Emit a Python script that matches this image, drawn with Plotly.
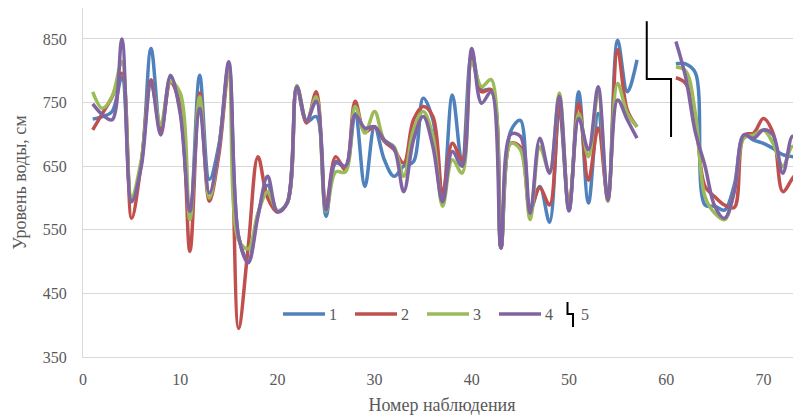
import plotly.graph_objects as go

# ---------------- data ----------------
x_seg1 = list(range(1, 58))
x_seg2 = list(range(61, 75))

s1_a = [724, 728, 736, 790, 597, 655, 835, 705, 790, 738, 571, 793, 629, 685, 809, 540, 500, 575, 620, 580,
        592, 775, 720, 728, 571, 655, 650, 733, 618, 712, 660, 634, 650, 657, 757, 723, 597, 762, 655, 828,
        770, 770, 523, 705, 722, 580, 618, 562, 740, 580, 767, 592, 733, 598, 848, 767, 817]
s1_b = [811, 811, 797, 589, 587, 581, 620, 699, 691, 686, 678, 668, 665, 665]

s2_a = [707, 733, 759, 796, 568, 655, 786, 705, 782, 745, 516, 765, 595, 670, 801, 395, 524, 665, 600, 578,
        592, 775, 718, 767, 589, 665, 644, 752, 704, 712, 689, 676, 655, 723, 744, 728, 608, 686, 660, 820,
        767, 770, 522, 686, 680, 585, 616, 589, 750, 585, 749, 628, 710, 600, 833, 738, 712]
s2_b = [789, 780, 723, 618, 602, 589, 585, 699, 702, 725, 702, 610, 631, 650]

s3_a = [767, 741, 760, 814, 602, 660, 780, 715, 783, 765, 566, 759, 600, 680, 806, 534, 520, 576, 610, 580,
        592, 777, 722, 759, 579, 641, 641, 744, 702, 736, 691, 681, 634, 707, 736, 697, 587, 660, 639, 814,
        775, 786, 525, 686, 676, 566, 680, 641, 765, 583, 733, 665, 765, 595, 780, 733, 712]
s3_b = [806, 800, 733, 602, 576, 566, 610, 694, 699, 707, 686, 650, 681, 639]

s4_a = [748, 731, 723, 850, 594, 650, 782, 699, 793, 733, 579, 741, 608, 680, 814, 540, 498, 571, 634, 578,
        592, 775, 722, 752, 581, 657, 650, 731, 710, 712, 691, 678, 610, 691, 728, 681, 594, 673, 650, 835,
        749, 767, 521, 700, 697, 576, 694, 639, 760, 580, 725, 676, 775, 597, 754, 723, 694]
s4_b = [846, 790, 703, 650, 587, 568, 610, 699, 694, 707, 699, 639, 697, 665]

s5_x = [58, 58, 60.5, 60.5]
s5_y = [878, 787, 787, 696]

series_names = ["1", "2", "3", "4", "5"]
x_ticks = [0, 10, 20, 30, 40, 50, 60, 70]
y_ticks = [350, 450, 550, 650, 750, 850]

# ---------------- style ----------------
W, H = 801, 419
OFF = 8  # page offset of the figure (default body margin)
# plot area wanted on the page: x 83..801, y 8..357
ML, MR, MT, MB = 83 - OFF, 8, 0, H + OFF - 357
colors = ["#4F81BD", "#C0504D", "#9BBB59", "#8064A2"]
FONT = "Liberation Serif, Times New Roman, serif"
GREY = "#595959"

fig = go.Figure()
for name, a, b, c in zip(series_names[:4], [s1_a, s2_a, s3_a, s4_a], [s1_b, s2_b, s3_b, s4_b], colors):
    fig.add_trace(go.Scatter(
        x=x_seg1 + [None] + x_seg2, y=a + [None] + b, name=name, mode="lines",
        line=dict(color=c, width=3.5, shape="spline", smoothing=1.0),
        connectgaps=False, showlegend=False))

fig.add_trace(go.Scatter(x=s5_x, y=s5_y, name=series_names[4], mode="lines",
                         line=dict(color="#000000", width=2), showlegend=False))

# manual legend (reproduces Excel-like legend with step icon); positions in page pixels
def px2x(px):
    return (px - OFF - ML) / (W - ML - MR)

def py2y(py):
    return (H - MB - (py - OFF)) / (H - MT - MB)

shapes = []
annotations = []
leg_y = 314
starts = [283, 355, 427, 499]
for name, c, s in zip(series_names[:4], colors, starts):
    shapes.append(dict(type="line", xref="paper", yref="paper",
                       x0=px2x(s), x1=px2x(s + 42), y0=py2y(leg_y), y1=py2y(leg_y),
                       line=dict(color=c, width=3.5)))
    annotations.append(dict(xref="paper", yref="paper", x=px2x(s + 44), y=py2y(leg_y),
                            text=name, showarrow=False, xanchor="left", yanchor="middle",
                            font=dict(family=FONT, size=16, color=GREY)))
# step icon for series 5
p = "M {x0},{y0} L {x0},{y1} L {x1},{y1} L {x1},{y2}".format(
    x0=px2x(567.5), x1=px2x(573), y0=py2y(302), y1=py2y(314), y2=py2y(327))
shapes.append(dict(type="path", xref="paper", yref="paper", path=p,
                   line=dict(color="#000000", width=2)))
annotations.append(dict(xref="paper", yref="paper", x=px2x(579), y=py2y(leg_y),
                        text=series_names[4], showarrow=False, xanchor="left", yanchor="middle",
                        font=dict(family=FONT, size=16, color=GREY)))

fig.update_layout(
    width=W, height=H,
    margin=dict(l=ML, r=MR, t=MT, b=MB, autoexpand=False),
    paper_bgcolor="white", plot_bgcolor="white",
    shapes=shapes, annotations=annotations,
    showlegend=False,
    xaxis=dict(range=[0, 73.87], tickvals=x_ticks, showgrid=False, zeroline=False,
               showline=True, linecolor="#D9D9D9", linewidth=1, ticks="", automargin=False,
               tickfont=dict(family=FONT, size=16, color=GREY), ticklabelstandoff=8,
               title=dict(text="Номер наблюдения", font=dict(family=FONT, size=18, color=GREY),
                          standoff=11)),
    yaxis=dict(range=[350, 898.7], tickvals=y_ticks, showgrid=True, gridcolor="#D9D9D9",
               gridwidth=1, zeroline=False, showline=True, linecolor="#D9D9D9", linewidth=1,
               ticks="", automargin=False,
               tickfont=dict(family=FONT, size=16, color=GREY), ticklabelstandoff=12,
               title=dict(text="Уровень воды, см", font=dict(family=FONT, size=18, color=GREY),
                          standoff=11)),
)

fig.write_html("out.html")
